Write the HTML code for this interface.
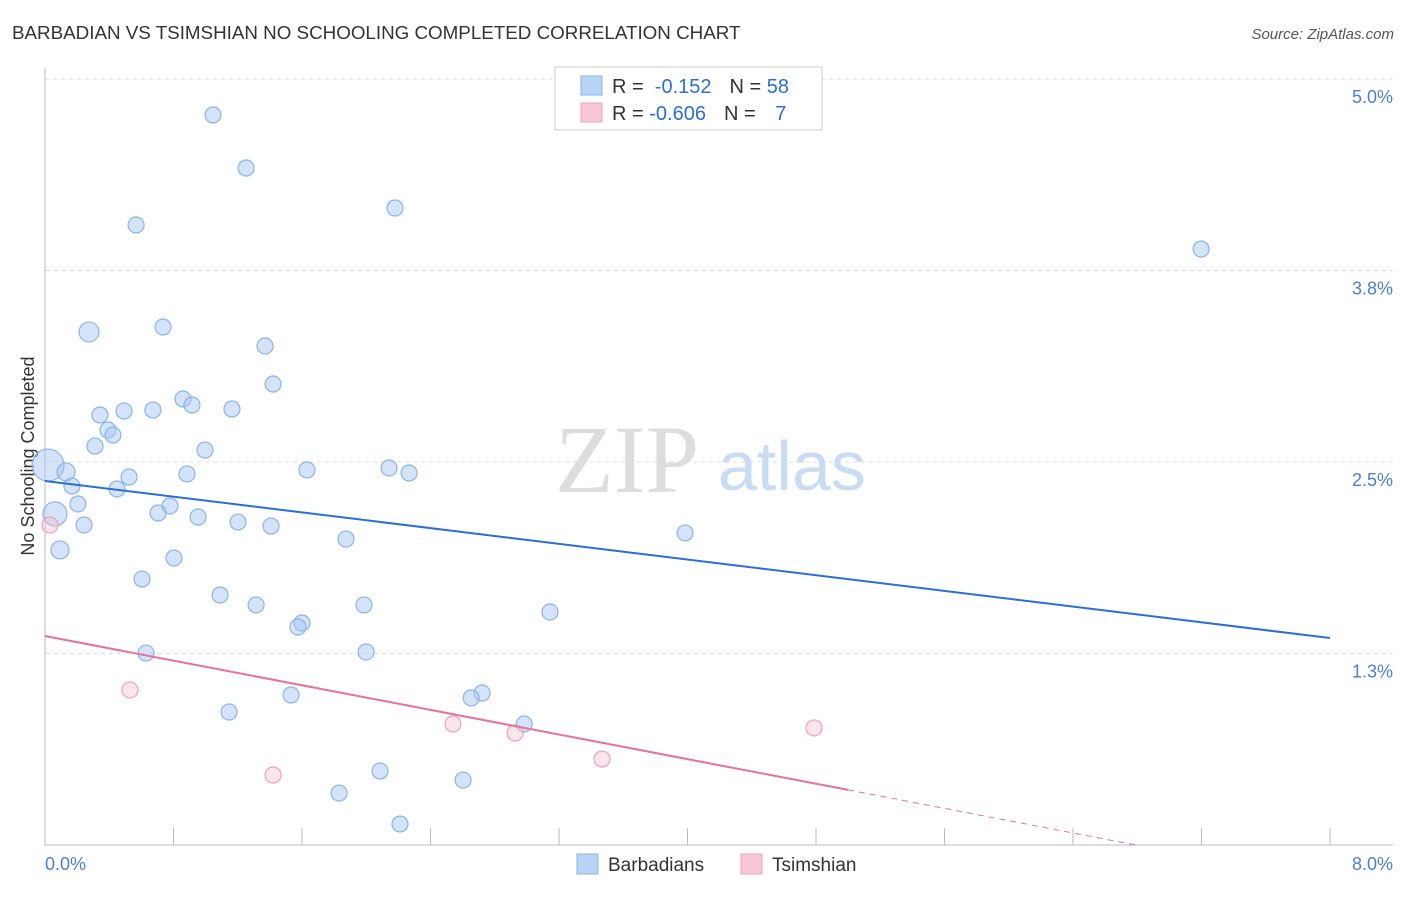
<!DOCTYPE html>
<html><head><meta charset="utf-8"><style>
body{margin:0;background:#fff;font-family:"Liberation Sans",sans-serif}
svg text{font-family:"Liberation Sans",sans-serif}
</style></head><body>
<svg id="c" width="1406" height="892">
<text x="12" y="39" font-size="18.8" fill="#333">BARBADIAN VS TSIMSHIAN NO SCHOOLING COMPLETED CORRELATION CHART</text>
<text x="1394" y="39" font-size="15" fill="#555" text-anchor="end" font-style="italic">Source: ZipAtlas.com</text>
<text x="34" y="456" font-size="18" fill="#333" text-anchor="middle" transform="rotate(-90 34 456)">No Schooling Completed</text>
<g id="grid"></g>
<g id="axes"></g>
<text x="555" y="492" font-size="96" fill="#ddd" style="font-family:'Liberation Serif',serif">ZIP</text>
<text x="718" y="490" font-size="70" fill="#c8dcf4">atlas</text>
<g id="marks"></g>
<g>
<rect x="555" y="67" width="267" height="63" fill="#fff" stroke="#ccc"/>
<rect x="581" y="76" width="21" height="19" fill="#b8d3f5" stroke="#8ab4e8"/>
<rect x="581" y="103" width="21" height="19" fill="#f8c8d6" stroke="#f0a0b8"/>
<text x="612" y="93" font-size="20" fill="#333">R = <tspan fill="#2a6fd6">&#160;-0.152</tspan><tspan dx="18">N = </tspan><tspan fill="#2a6fd6">58</tspan></text>
<text x="612" y="120" font-size="20" fill="#333">R = <tspan fill="#2a6fd6">-0.606</tspan><tspan dx="18">N = </tspan><tspan fill="#2a6fd6" dx="14">7</tspan></text>
</g>
<g>
<rect x="577" y="854" width="21" height="20" fill="#b8d3f5" stroke="#8ab4e8"/>
<text x="608" y="871" font-size="19" fill="#333">Barbadians</text>
<rect x="741" y="854" width="21" height="20" fill="#f8c8d6" stroke="#f0a0b8"/>
<text x="772" y="871" font-size="19" fill="#333">Tsimshian</text>
</g>
</svg>
<script>
const blueX=[1.046,1.252,0.567,2.179,7.198,0.274,0.735,1.370,1.420,0.859,0.915,0.342,0.492,0.672,1.164,0.392,0.423,0.311,0.996,0.019,0.131,0.168,0.523,0.884,1.631,2.142,2.267,0.448,0.205,0.062,0.778,0.704,0.953,1.202,0.243,1.407,1.874,3.985,0.093,0.803,0.604,1.090,1.314,1.986,3.144,1.600,1.575,1.999,0.629,1.532,2.721,2.653,1.146,2.983,2.086,2.603,1.831,2.210];
const blueY=[4.765,4.419,4.047,4.158,3.890,3.349,3.381,3.257,3.009,2.911,2.872,2.807,2.833,2.839,2.846,2.709,2.676,2.604,2.578,2.480,2.435,2.343,2.402,2.422,2.448,2.461,2.428,2.324,2.226,2.161,2.213,2.167,2.141,2.108,2.089,2.082,1.997,2.037,1.926,1.873,1.736,1.632,1.567,1.567,1.521,1.449,1.423,1.260,1.253,0.979,0.992,0.960,0.868,0.790,0.483,0.424,0.339,0.137];
const blueR=[8,8,8,8,8,10,8,8,8,8,8,8,8,8,8,8,8,8,8,16,9,8,8,8,8,8,8,8,8,12,8,8,8,8,8,8,8,8,9,8,8,8,8,8,8,8,8,8,8,8,8,8,8,8,8,8,8,8];
const pinkX=[0.031,0.529,1.420,2.540,2.927,3.468,4.788];
const pinkY=[2.089,1.012,0.457,0.790,0.731,0.561,0.764];
const xTicks=[0,0.8,1.6,2.4,3.2,4.0,4.8,5.6,6.4,7.2,8.0];
const yTicks=[1.25,2.5,3.75,5.0];
const yTickLabels=["1.3%","2.5%","3.8%","5.0%"];
const blueTrend=[2.376,1.351];
const pinkTrend=[1.364,-0.243];
const NS="http://www.w3.org/2000/svg";
const X=v=>45+v/8*1285, Y=v=>845-v/5*766;
function mk(p,t,a){const e=document.createElementNS(NS,t);for(const k in a)e.setAttribute(k,a[k]);document.getElementById(p).appendChild(e);return e;}
yTicks.forEach((t,i)=>{
 const g=mk('grid','line',{x1:45,x2:1393,y1:Y(t),y2:Y(t),stroke:'#ddd','stroke-dasharray':'4,4'});
 
 
 const l=mk('axes','text',{x:1393,y:Y(t)+24,'font-size':18,fill:'#4a7fd4','text-anchor':'end'});
 l.textContent=yTickLabels[i];
 
 
});
mk('axes','line',{x1:45,x2:1393,y1:845,y2:845,stroke:'#bbb'});
mk('axes','line',{x1:45,x2:45,y1:68,y2:845,stroke:'#bbb'});
xTicks.forEach(t=>{const k=mk('axes','line',{x1:X(t),x2:X(t),y1:828,y2:845,stroke:'#bbb'});
 
 });
let a=mk('axes','text',{x:45,y:870,'font-size':18,fill:'#4a7fd4'});a.textContent='0.0%';


a=mk('axes','text',{x:1393,y:870,'font-size':18,fill:'#4a7fd4','text-anchor':'end'});a.textContent='8.0%';


blueX.forEach((x,i)=>{const c=mk('marks','circle',{cx:X(x),cy:Y(blueY[i]),r:blueR[i],fill:'rgba(170,200,242,0.5)',stroke:'#8ab4e8','stroke-width':1.2});
 
 });
pinkX.forEach((x,i)=>{const c=mk('marks','circle',{cx:X(x),cy:Y(pinkY[i]),r:8,fill:'rgba(248,190,208,0.4)',stroke:'#f0a0b8','stroke-width':1.2});
 
 });
let ln=mk('marks','line',{x1:X(0),y1:Y(blueTrend[0]),x2:X(8),y2:Y(blueTrend[1]),stroke:'#2a6fd6','stroke-width':2});


const pf=x=>pinkTrend[0]+(pinkTrend[1]-pinkTrend[0])*x/8;
ln=mk('marks','line',{x1:X(0),y1:Y(pf(0)),x2:X(5),y2:Y(pf(5)),stroke:'#e8709a','stroke-width':2});


const x0=8*pinkTrend[0]/(pinkTrend[0]-pinkTrend[1]);
ln=mk('marks','line',{x1:X(5),y1:Y(pf(5)),x2:X(x0),y2:Y(0),stroke:'#e8709a','stroke-width':1,'stroke-dasharray':'6,5'});


</script>
</body></html>
